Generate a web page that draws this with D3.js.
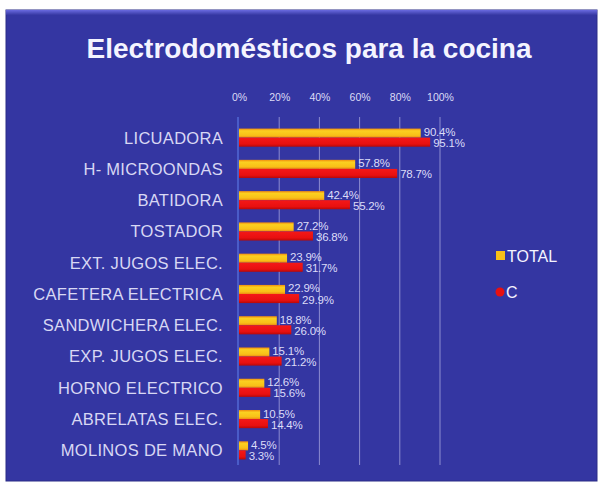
<!DOCTYPE html>
<html>
<head>
<meta charset="utf-8">
<script src="https://cdn.jsdelivr.net/npm/d3@7"></script>
<style>
  html, body { margin: 0; padding: 0; background: #ffffff; }
  svg { display: block; font-family: "Liberation Sans", Arial, sans-serif; }
</style>
</head>
<body>
<svg id="chart" width="604" height="483"></svg>
<script>
// Survey results: share of households owning each kitchen appliance
const categories = [
  "LICUADORA", "H- MICROONDAS", "BATIDORA", "TOSTADOR", "EXT. JUGOS ELEC.",
  "CAFETERA ELECTRICA", "SANDWICHERA ELEC.", "EXP. JUGOS ELEC.",
  "HORNO ELECTRICO", "ABRELATAS ELEC.", "MOLINOS DE MANO"
];
const totalValues = [90.4, 57.8, 42.4, 27.2, 23.9, 22.9, 18.8, 15.1, 12.6, 10.5, 4.5];
const cValues     = [95.1, 78.7, 55.2, 36.8, 31.7, 29.9, 26.0, 21.2, 15.6, 14.4, 3.3];
const seriesNames = ["TOTAL", "C"];
const tickValues  = [0, 20, 40, 60, 80, 100];

const svg = d3.select("#chart");

// gradients for the bar fills
const defs = svg.append("defs");
const gY = defs.append("linearGradient").attr("id", "gYellow").attr("x1", 0).attr("y1", 0).attr("x2", 0).attr("y2", 1);
gY.append("stop").attr("offset", "0%").attr("stop-color", "#f08c10");
gY.append("stop").attr("offset", "25%").attr("stop-color", "#fbd020");
gY.append("stop").attr("offset", "75%").attr("stop-color", "#f8c018");
gY.append("stop").attr("offset", "100%").attr("stop-color", "#ee8a10");
const gR = defs.append("linearGradient").attr("id", "gRed").attr("x1", 0).attr("y1", 0).attr("x2", 0).attr("y2", 1);
gR.append("stop").attr("offset", "0%").attr("stop-color", "#f41818");
gR.append("stop").attr("offset", "70%").attr("stop-color", "#e81010");
gR.append("stop").attr("offset", "100%").attr("stop-color", "#b80808");
const gTop = defs.append("linearGradient").attr("id", "gTop").attr("x1", 0).attr("y1", 0).attr("x2", 0).attr("y2", 1);
gTop.append("stop").attr("offset", "0%").attr("stop-color", "#6a6ae0");
gTop.append("stop").attr("offset", "100%").attr("stop-color", "#3638a2");

// panel
svg.append("rect").attr("x", 6).attr("y", 10).attr("width", 591).attr("height", 471)
  .attr("fill", "#3436a2").attr("stroke", "#2a2c86").attr("stroke-width", 1);
svg.append("rect").attr("x", 6).attr("y", 10).attr("width", 591).attr("height", 5)
  .attr("fill", "url(#gTop)");

// title
svg.append("text").attr("x", 309).attr("y", 58).attr("text-anchor", "middle")
  .attr("fill", "#f4f4ff").attr("font-size", 28).attr("font-weight", "bold")
  .text("Electrodomésticos para la cocina");

// scales
const x = d3.scaleLinear().domain([0, 100]).range([239, 440]);
const y = d3.scaleBand().domain(categories).range([122, 466]).paddingInner(0.42).paddingOuter(0.21);
const sub = d3.scaleBand().domain(seriesNames).range([0, y.bandwidth()]);

// gridlines
svg.append("g").selectAll("line").data(tickValues.slice(1)).join("line")
  .attr("x1", d => x(d)).attr("x2", d => x(d))
  .attr("y1", 117).attr("y2", 465)
  .attr("stroke", "#8c8cd0").attr("stroke-width", 1);

// top percentage axis
const xAxis = d3.axisTop(x).tickValues(tickValues).tickFormat(d => d + "%").tickSize(0).tickPadding(0);
const gx = svg.append("g").attr("transform", "translate(0,101)").call(xAxis);
gx.select(".domain").remove();
gx.selectAll("text").attr("fill", "#dcdcf6").attr("font-size", 10.5)
  .attr("font-family", "Liberation Sans, Arial, sans-serif");

// category axis
const yAxis = d3.axisLeft(y).tickSize(0).tickPadding(0);
const gy = svg.append("g").attr("transform", "translate(223,0)").call(yAxis);
gy.select(".domain").remove();
gy.selectAll("text").attr("fill", "#d8d8f4").attr("font-size", 16.5)
  .attr("letter-spacing", 0.3).attr("dy", "0.36em")
  .attr("font-family", "Liberation Sans, Arial, sans-serif");

// vertical axis line
svg.append("line").attr("x1", x(0) - 1).attr("x2", x(0) - 1).attr("y1", 117).attr("y2", 465)
  .attr("stroke", "#4a5cc8").attr("stroke-width", 2);

const rows = categories.map((c, i) => ({ cat: c, total: totalValues[i], c: cValues[i] }));

// bars
const bars = svg.append("g");
bars.selectAll("rect.total").data(rows).join("rect").attr("class", "total")
  .attr("x", x(0)).attr("y", d => y(d.cat) + sub("TOTAL"))
  .attr("width", d => x(d.total) - x(0)).attr("height", sub.bandwidth())
  .attr("fill", "url(#gYellow)");
bars.selectAll("rect.c").data(rows).join("rect").attr("class", "c")
  .attr("x", x(0)).attr("y", d => y(d.cat) + sub("C"))
  .attr("width", d => x(d.c) - x(0)).attr("height", sub.bandwidth())
  .attr("fill", "url(#gRed)");

// value labels
const fmt = v => v.toFixed(1) + "%";
const labels = svg.append("g").attr("fill", "#dcdcf8").attr("font-size", 11.5).attr("letter-spacing", -0.2);
labels.selectAll("text.lt").data(rows).join("text").attr("class", "lt")
  .attr("x", d => x(d.total) + 3)
  .attr("y", d => y(d.cat) + sub("TOTAL") + sub.bandwidth() / 2 - 1)
  .attr("dy", "0.35em").text(d => fmt(d.total));
labels.selectAll("text.lc").data(rows).join("text").attr("class", "lc")
  .attr("x", d => x(d.c) + 3)
  .attr("y", d => y(d.cat) + sub("C") + sub.bandwidth() / 2 + 1)
  .attr("dy", "0.35em").text(d => fmt(d.c));

// legend
const legend = svg.append("g");
legend.append("rect").attr("x", 496).attr("y", 251).attr("width", 9).attr("height", 9).attr("fill", "#f8c018");
legend.append("text").attr("x", 507).attr("y", 262).attr("fill", "#f4f4ff").attr("font-size", 16)
  .text(seriesNames[0]);
legend.append("circle").attr("cx", 500).attr("cy", 292).attr("r", 4.5).attr("fill", "#e81010");
legend.append("text").attr("x", 506).attr("y", 298).attr("fill", "#f4f4ff").attr("font-size", 16)
  .text(seriesNames[1]);
</script>
</body>
</html>
